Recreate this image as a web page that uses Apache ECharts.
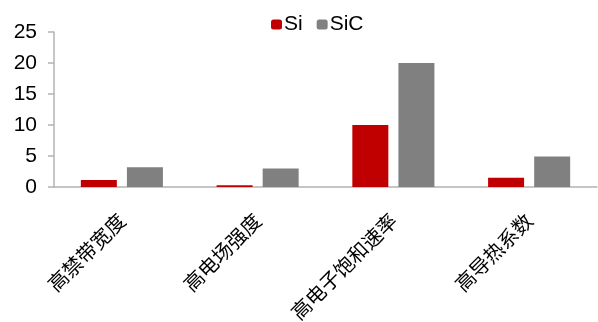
<!DOCTYPE html>
<html>
<head>
<meta charset="utf-8">
<script src="https://cdn.jsdelivr.net/npm/echarts@6/dist/echarts.min.js"></script>
<style>
  html, body { margin: 0; padding: 0; background: #fff; }
  #chart { width: 598px; height: 322px; }
</style>
</head>
<body>
<div id="chart"></div>
<script>
const categories = ['高禁带宽度', '高电场强度', '高电子饱和速率', '高导热系数'];
const siValues = [1.12, 0.3, 10, 1.5];
const sicValues = [3.2, 3, 20, 4.9];
const yTicks = { min: 0, max: 25, interval: 5 };

const axisGray = '#b3b3b3';

const chart = echarts.init(document.getElementById('chart'));
chart.setOption({
    animation: false,
    legend: {
        left: 266,
        top: 9,
        itemWidth: 11,
        itemHeight: 10,
        itemGap: 14,
        textStyle: {
            fontFamily: 'Liberation Sans',
            fontSize: 21,
            color: '#000',
            padding: [0, 0, 0, -3]
        },
        data: ['Si', 'SiC']
    },
    grid: {
        left: 54,
        right: 1,
        top: 32,
        bottom: 135,
        containLabel: false,
        outerBoundsMode: 'none'
    },
    xAxis: {
        type: 'category',
        data: categories,
        axisLine: { lineStyle: { color: axisGray, width: 1.5 } },
        axisTick: { length: 6, lineStyle: { color: axisGray, width: 1.5 } },
        axisLabel: {
            rotate: 45,
            margin: 30,
            fontFamily: 'Noto Sans CJK SC',
            fontSize: 20,
            color: '#000',
            interval: 0
        }
    },
    yAxis: {
        type: 'value',
        min: yTicks.min,
        max: yTicks.max,
        interval: yTicks.interval,
        axisLine: { show: true, lineStyle: { color: axisGray, width: 1.5 } },
        axisTick: { show: true, length: 6, lineStyle: { color: axisGray, width: 1.5 } },
        splitLine: { show: false },
        axisLabel: {
            margin: 17,
            fontFamily: 'Liberation Sans',
            fontSize: 21,
            color: '#000'
        }
    },
    series: [
        {
            name: 'Si',
            type: 'bar',
            data: siValues,
            barWidth: 36,
            barGap: '28%',
            itemStyle: { color: '#c00000' }
        },
        {
            name: 'SiC',
            type: 'bar',
            data: sicValues,
            barWidth: 36,
            itemStyle: { color: '#808080' }
        }
    ]
});
</script>
</body>
</html>
